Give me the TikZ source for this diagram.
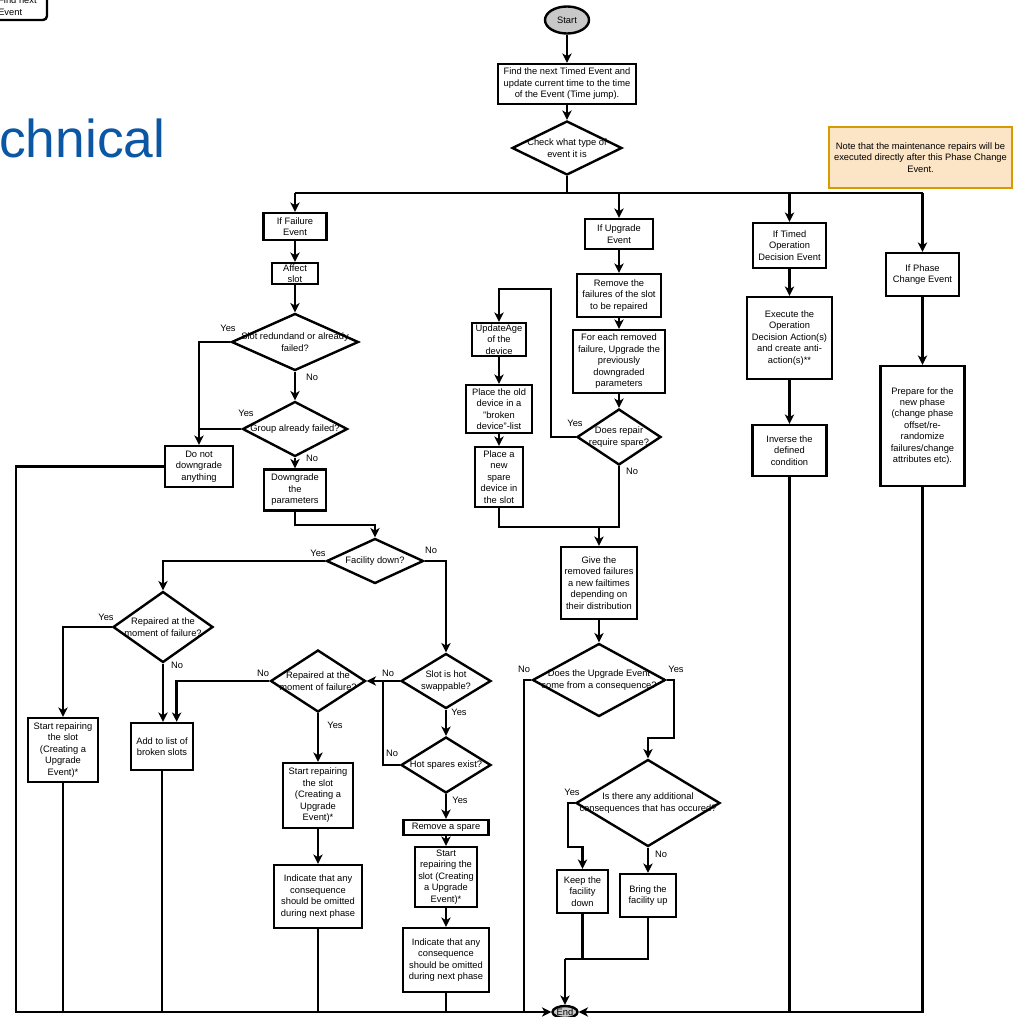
\documentclass[tikz,border=0pt]{standalone}
\usepackage{fontspec}
\setmainfont{Liberation Sans}
\usetikzlibrary{shapes.geometric,arrows.meta}
\definecolor{titleblue}{HTML}{0B57A4}
\definecolor{notefill}{HTML}{FCE4C6}
\definecolor{noteline}{HTML}{D79B00}
\definecolor{termfill}{HTML}{C8C8C8}
\newcommand{\fcfont}{\fontsize{7}{8.6}\selectfont}
\begin{document}
\begin{tikzpicture}[x=0.75pt,y=-0.75pt,
  ln/.style={line width=1.8pt},
  arr/.style={ln,-{Stealth[length=7pt,width=7pt,inset=2pt]}},
  sz/.style 2 args={minimum width=#1*0.75pt,minimum height=#2*0.75pt},
  box/.style={draw,line width=1.8pt,fill=white,align=center,inner xsep=1pt,inner ysep=0pt,font=\fcfont},
  dec/.style={draw,diamond,line width=1.8pt,fill=white,inner sep=0pt},
  dtext/.style={align=center,inner sep=0pt,font=\fcfont},
  lbl/.style={inner sep=0pt,font=\fcfont},
  term/.style={draw,ellipse,fill=termfill,line width=1.8pt,inner sep=0pt,font=\fcfont}]
\useasboundingbox (0,0) rectangle (1013,1017);

% partly visible box in the corner and the heading
\node[draw,line width=1.8pt,rounded corners=3pt,sz={80}{50}] (prev) at (7,-5) {};
\node[anchor=west,align=left,inner sep=0pt,font=\fcfont] (prevT) at (-2,6) {Find next\\Event};
\node[anchor=base west,inner sep=0pt,text=titleblue,font=\fontsize{40}{40}\selectfont] (ttl) at (-1,157) {chnical};

% top of the flow
\node[term,sz={44}{27}] (start) at (567,20) {Start};
\node[box,sz={138}{40}] (find) at (567,84) {Find the next Timed Event and\\update current time to the time\\of the Event (Time jump).};
\node[dec,sz={110}{54}] (check) at (567,148) {};
\node[dtext] (checkT) at (check) {Check what type of\\event it is};

\node[draw=noteline,fill=notefill,line width=1.4pt,sz={183}{61},align=center,inner sep=1pt,font=\fcfont] (note) at (920.5,157.5) {Note that the maintenance repairs will be\\executed directly after this Phase Change\\Event.};

% failure branch
\node[box,sz={63}{27}] (fail) at (295,226.5) {If Failure\\Event};
\node[box,sz={46}{21}] (affect) at (295,273.5) {Affect\\slot};
\node[dec,sz={127}{57}] (d1) at (295,342) {};
\node[dtext] (d1T) at (d1) {Slot redundand or already\\failed?};
\node[dec,sz={105}{55}] (d2) at (295,429) {};
\node[dtext] (d2T) at (d2) {Group already failed?};
\node[box,sz={68}{41}] (nodo) at (199,466.5) {Do not\\downgrade\\anything};
\node[box,sz={62}{41}] (down) at (295,490) {Downgrade\\the\\parameters};
\node[dec,sz={97}{45}] (fac) at (375,561) {};
\node[dtext] (facT) at (fac) {Facility down?};
\node[dec,sz={100}{71}] (rep1) at (163,627) {};
\node[dtext] (rep1T) at (rep1) {Repaired at the\\moment of failure?};
\node[box,sz={70}{64}] (sr1) at (63,750) {Start repairing\\the slot\\(Creating a\\Upgrade\\Event)*};
\node[box,sz={62}{47}] (add) at (162,746.5) {Add to list of\\broken slots};
\node[dec,sz={90}{55}] (hot) at (446,681) {};
\node[dtext] (hotT) at (hot) {Slot is hot\\swappable?};
\node[dec,sz={95}{62}] (rep2) at (318,681) {};
\node[dtext] (rep2T) at (rep2) {Repaired at the\\moment of failure?};
\node[box,sz={70}{65}] (sr2) at (318,795.5) {Start repairing\\the slot\\(Creating a\\Upgrade\\Event)*};
\node[box,sz={88}{63}] (ind1) at (318,896.5) {Indicate that any\\consequence\\should be omitted\\during next phase};
\node[dec,sz={90}{56}] (spares) at (446,765) {};
\node[dtext] (sparesT) at (spares) {Hot spares exist?};
\node[box,sz={85}{15}] (remsp) at (446,827.5) {Remove a spare};
\node[box,sz={62}{60}] (sr3) at (446,877) {Start\\repairing the\\slot (Creating\\a Upgrade\\Event)*};
\node[box,sz={86}{64}] (ind2) at (446,960) {Indicate that any\\consequence\\should be omitted\\during next phase};

% upgrade branch
\node[box,sz={68}{30}] (upg) at (619,234) {If Upgrade\\Event};
\node[box,sz={84}{43}] (remove) at (619,295.5) {Remove the\\failures of the slot\\to be repaired};
\node[box,sz={92}{63}] (foreach) at (619,361.5) {For each removed\\failure, Upgrade the\\previously\\downgraded\\parameters};
\node[dec,sz={84}{56}] (req) at (619,437) {};
\node[dtext] (reqT) at (req) {Does repair\\require spare?};
\node[box,sz={54}{33}] (updage) at (499,339.5) {UpdateAge\\of the\\device};
\node[box,sz={66}{48}] (placeold) at (499,409) {Place the old\\device in a\\"broken\\device"-list};
\node[box,sz={48}{60}] (placenew) at (499,477) {Place a\\new\\spare\\device in\\the slot};
\node[box,sz={76}{72}] (give) at (599,583) {Give the\\removed failures\\a new failtimes\\depending on\\their distribution};
\node[dec,sz={133}{73}] (cons) at (599,680) {};
\node[dtext] (consT) at (cons) {Does the Upgrade Event\\come from a consequence?};
\node[dec,sz={144}{87}] (addc) at (648,803) {};
\node[dtext] (addcT) at (addc) {Is there any additional\\consequences that has occured?};
\node[box,sz={51}{43}] (keep) at (582.5,891.5) {Keep the\\facility\\down};
\node[box,sz={56}{43}] (bring) at (648,895.5) {Bring the\\facility up};

% timed operation and phase change branches
\node[box,sz={73}{45}] (timed) at (789.5,245.5) {If Timed\\Operation\\Decision Event};
\node[box,sz={85}{82}] (exec) at (789.5,338) {Execute the\\Operation\\Decision Action(s)\\and create anti-\\action(s)**};
\node[box,sz={74}{51}] (inv) at (789.5,450.5) {Inverse the\\defined\\condition};
\node[box,sz={73}{43}] (phase) at (922.5,274.5) {If Phase\\Change Event};
\node[box,sz={84}{120}] (prep) at (922.5,426) {Prepare for the\\new phase\\(change phase\\offset/re-\\randomize\\failures/change\\attributes etc).};

\node[term,sz={25}{12}] (end) at (565,1012) {End};

% branch labels
\node[lbl] (y1) at (228,328) {Yes};
\node[lbl] (n1) at (312,377) {No};
\node[lbl] (y2) at (246,413) {Yes};
\node[lbl] (n2) at (312,458) {No};
\node[lbl] (y3) at (318,553) {Yes};
\node[lbl] (n3) at (431,550) {No};
\node[lbl] (y4) at (106,617) {Yes};
\node[lbl] (n4) at (177,665) {No};
\node[lbl] (n5) at (263,673) {No};
\node[lbl] (y5) at (335,725) {Yes};
\node[lbl] (n6) at (388,673) {No};
\node[lbl] (y6) at (459,712) {Yes};
\node[lbl] (n7) at (392,753) {No};
\node[lbl] (y7) at (460,800) {Yes};
\node[lbl] (y8) at (575,423) {Yes};
\node[lbl] (n8) at (632,471) {No};
\node[lbl] (n9) at (524,669) {No};
\node[lbl] (y9) at (676,669) {Yes};
\node[lbl] (y10) at (572,792) {Yes};
\node[lbl] (n10) at (661,854) {No};

% junction points
\coordinate (busT) at (567,193);
\coordinate (busB) at (16,1012);
\coordinate (jd) at (295,525);
\coordinate (kn) at (383,681);
\coordinate (cn) at (524,1012);
\coordinate (ya) at (551,289);
\coordinate (jb) at (619,527);
\coordinate (yc) at (674,738);
\coordinate (yk) at (568,847);
\coordinate (je) at (565,959);

% connectors: dispatch
\draw[arr] (start) -- (find);
\draw[arr] (find) -- (check);
\draw[ln] (check.south) -- (busT);
\draw[ln] (busT -| fail.north) -- (busT -| phase.north);
\draw[arr] (busT -| fail.north) -- (fail.north);
\draw[arr] (busT -| upg.north) -- (upg.north);
\draw[arr] (busT -| timed.north) -- (timed.north);
\draw[arr] (busT -| phase.north) -- (phase.north);

% connectors: failure branch
\draw[arr] (fail) -- (affect);
\draw[arr] (affect) -- (d1);
\draw[arr] (d1.west) -| (nodo.north);
\draw[arr] (d1.south) -- (d2.north);
\draw[ln] (d2.west) -- (d2.west -| nodo.north);
\draw[arr] (d2.south) -- (down.north);
\draw[arr] (down.south) -- (jd) -| (fac.north);
\draw[arr] (fac.west) -| (rep1.north);
\draw[arr] (fac.east) -| (hot.north);
\draw[arr] (rep1.west) -| (sr1.north);
\draw[arr] (rep1.south) -- (add.north -| rep1.south);
\draw[arr] (rep2.west) -| ([xshift=11pt]add.north);
\draw[arr] (hot.west) -- (rep2.east);
\draw[arr] (rep2.south) -- (sr2.north);
\draw[arr] (sr2) -- (ind1);
\draw[arr] (hot.south) -- (spares.north);
\draw[ln] (spares.west) -| (kn);
\draw[arr] (spares.south) -- (remsp.north);
\draw[arr] (remsp) -- (sr3);
\draw[arr] (sr3) -- (ind2);

% connectors: collecting line towards the end
\draw[arr] (nodo.west) -| (busB) -- (end.west);
\draw[ln] (sr1.south) -- (sr1.south |- busB);
\draw[ln] (add.south) -- (add.south |- busB);
\draw[ln] (ind1.south) -- (ind1.south |- busB);
\draw[ln] (ind2.south) -- (ind2.south |- busB);
\draw[ln] (cons.west) -| (cn);

% connectors: upgrade branch
\draw[arr] (upg) -- (remove);
\draw[arr] (remove) -- (foreach);
\draw[arr] (foreach) -- (req);
\draw[arr] (req.west) -| (ya) -| (updage.north);
\draw[arr] (updage) -- (placeold);
\draw[arr] (placeold) -- (placenew);
\draw[ln] (req.south) -- (jb) -- (jb -| placenew.south) -- (placenew.south);
\draw[arr] (jb -| give.north) -- (give.north);
\draw[arr] (give) -- (cons);
\draw[arr] (cons.east) -| (yc) -| (addc.north);
\draw[arr] (addc.west) -| (yk) -| (keep.north);
\draw[arr] (addc.south) -- (bring.north);
\draw[ln] (keep.south) -- (keep.south |- je);
\draw[ln] (bring.south) -- (bring.south |- je) -- (je);
\draw[arr] (je) -- (end.north);

% connectors: timed operation and phase change
\draw[arr] (timed) -- (exec);
\draw[arr] (exec) -- (inv);
\draw[ln] (inv.south) -- (inv.south |- busB);
\draw[arr] (phase) -- (prep);
\draw[arr] (prep.south) |- (end.east);
\end{tikzpicture}
\end{document}
